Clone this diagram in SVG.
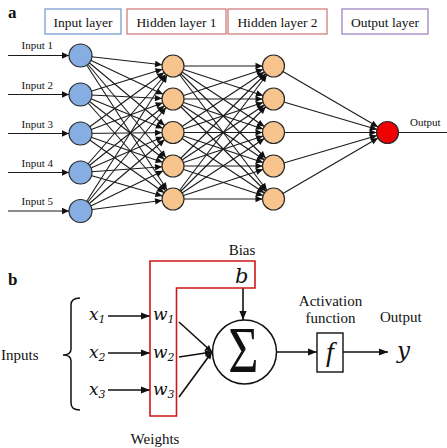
<svg xmlns="http://www.w3.org/2000/svg" width="447" height="448" viewBox="0 0 447 448">
<style>
.t{font-family:"Liberation Serif","Times New Roman",serif;fill:#111}
.lbl{font-size:13.5px}
.inl{font-size:11px}
.bl{font-size:15px}
.m{font-family:"DejaVu Serif","Liberation Serif",serif;font-style:italic;fill:#111}
.net line{stroke:#1a1a1a;stroke-width:1.1;marker-end:url(#an)}
.inp line{stroke:#1a1a1a;stroke-width:1.2;marker-end:url(#ai)}
.pb line{stroke:#111;stroke-width:1.6;marker-end:url(#ab)}
.in{fill:#86AEE3;stroke:#2a2a2a;stroke-width:1.2}
.hd{fill:#F8C48E;stroke:#2a2a2a;stroke-width:1.2}
.out{fill:#F00000;stroke:#2a2a2a;stroke-width:1.2}
.box{fill:#fff;stroke-width:1.3}
</style>
<defs>
<marker id="an" markerUnits="userSpaceOnUse" viewBox="0 0 10 10" markerWidth="10" markerHeight="10" refX="0" refY="0" orient="auto" overflow="visible"><path d="M-18,-3.2 L-11,0 L-18,3.2 Z" fill="#111"/></marker>
<marker id="ai" markerUnits="userSpaceOnUse" viewBox="0 0 10 10" markerWidth="10" markerHeight="10" refX="0" refY="0" orient="auto" overflow="visible"><path d="M-7,-3.2 L0,0 L-7,3.2 Z" fill="#111"/></marker>
<marker id="ab" markerUnits="userSpaceOnUse" viewBox="0 0 10 10" markerWidth="10" markerHeight="10" refX="0" refY="0" orient="auto" overflow="visible"><path d="M-9,-3.6 L0,0 L-9,3.6 Z" fill="#111"/></marker>
<marker id="aj" markerUnits="userSpaceOnUse" viewBox="0 0 10 10" markerWidth="10" markerHeight="10" refX="0" refY="0" orient="auto" overflow="visible"><path d="M-7,-3.2 L0,0 L-7,3.2 Z" fill="#111"/></marker>
</defs>

<!-- panel a labels -->
<text class="t" x="8" y="18" font-size="17" font-weight="bold">a</text>
<g id="box-input"><rect class="box" x="45" y="9" width="76" height="25" stroke="#7C9DD0"/><text class="t lbl" x="83" y="26.5" text-anchor="middle">Input layer</text></g>
<g id="box-h1"><rect class="box" x="127" y="9" width="99" height="25" stroke="#D07F7F"/><text class="t lbl" x="176.5" y="26.5" text-anchor="middle">Hidden layer 1</text></g>
<g id="box-h2"><rect class="box" x="228" y="9" width="99" height="25" stroke="#D07F7F"/><text class="t lbl" x="277.5" y="26.5" text-anchor="middle">Hidden layer 2</text></g>
<g id="box-out"><rect class="box" x="342" y="9" width="86" height="25" stroke="#9C86C4"/><text class="t lbl" x="385" y="26.5" text-anchor="middle">Output layer</text></g>

<g id="connectors">
<g class="inp">
<line x1="8" y1="55.5" x2="69" y2="55.5"/>
<line x1="8" y1="94.5" x2="69" y2="94.5"/>
<line x1="8" y1="133.5" x2="69" y2="133.5"/>
<line x1="8" y1="172.5" x2="69" y2="172.5"/>
<line x1="8" y1="211" x2="69" y2="211"/>
</g>
<g class="net">
<line x1="80.5" y1="55.5" x2="173" y2="66"/><line x1="80.5" y1="55.5" x2="173" y2="99"/><line x1="80.5" y1="55.5" x2="173" y2="132.5"/><line x1="80.5" y1="55.5" x2="173" y2="166"/><line x1="80.5" y1="55.5" x2="173" y2="199"/>
<line x1="80.5" y1="94.5" x2="173" y2="66"/><line x1="80.5" y1="94.5" x2="173" y2="99"/><line x1="80.5" y1="94.5" x2="173" y2="132.5"/><line x1="80.5" y1="94.5" x2="173" y2="166"/><line x1="80.5" y1="94.5" x2="173" y2="199"/>
<line x1="80.5" y1="133.5" x2="173" y2="66"/><line x1="80.5" y1="133.5" x2="173" y2="99"/><line x1="80.5" y1="133.5" x2="173" y2="132.5"/><line x1="80.5" y1="133.5" x2="173" y2="166"/><line x1="80.5" y1="133.5" x2="173" y2="199"/>
<line x1="80.5" y1="172.5" x2="173" y2="66"/><line x1="80.5" y1="172.5" x2="173" y2="99"/><line x1="80.5" y1="172.5" x2="173" y2="132.5"/><line x1="80.5" y1="172.5" x2="173" y2="166"/><line x1="80.5" y1="172.5" x2="173" y2="199"/>
<line x1="80.5" y1="211" x2="173" y2="66"/><line x1="80.5" y1="211" x2="173" y2="99"/><line x1="80.5" y1="211" x2="173" y2="132.5"/><line x1="80.5" y1="211" x2="173" y2="166"/><line x1="80.5" y1="211" x2="173" y2="199"/>

<line x1="173" y1="66" x2="273.5" y2="66"/><line x1="173" y1="66" x2="273.5" y2="99"/><line x1="173" y1="66" x2="273.5" y2="132.5"/><line x1="173" y1="66" x2="273.5" y2="166"/><line x1="173" y1="66" x2="273.5" y2="199"/>
<line x1="173" y1="99" x2="273.5" y2="66"/><line x1="173" y1="99" x2="273.5" y2="99"/><line x1="173" y1="99" x2="273.5" y2="132.5"/><line x1="173" y1="99" x2="273.5" y2="166"/><line x1="173" y1="99" x2="273.5" y2="199"/>
<line x1="173" y1="132.5" x2="273.5" y2="66"/><line x1="173" y1="132.5" x2="273.5" y2="99"/><line x1="173" y1="132.5" x2="273.5" y2="132.5"/><line x1="173" y1="132.5" x2="273.5" y2="166"/><line x1="173" y1="132.5" x2="273.5" y2="199"/>
<line x1="173" y1="166" x2="273.5" y2="66"/><line x1="173" y1="166" x2="273.5" y2="99"/><line x1="173" y1="166" x2="273.5" y2="132.5"/><line x1="173" y1="166" x2="273.5" y2="166"/><line x1="173" y1="166" x2="273.5" y2="199"/>
<line x1="173" y1="199" x2="273.5" y2="66"/><line x1="173" y1="199" x2="273.5" y2="99"/><line x1="173" y1="199" x2="273.5" y2="132.5"/><line x1="173" y1="199" x2="273.5" y2="166"/><line x1="173" y1="199" x2="273.5" y2="199"/>

<line x1="273.5" y1="66" x2="387.5" y2="132.5"/><line x1="273.5" y1="99" x2="387.5" y2="132.5"/><line x1="273.5" y1="132.5" x2="387.5" y2="132.5"/><line x1="273.5" y1="166" x2="387.5" y2="132.5"/><line x1="273.5" y1="199" x2="387.5" y2="132.5"/>
</g>
<line x1="398" y1="132.5" x2="447" y2="132.5" stroke="#1a1a1a" stroke-width="1.1"/>

<!-- panel b connectors -->
<g class="pb">
<line x1="108" y1="316" x2="150" y2="316"/>
<line x1="108" y1="353" x2="150" y2="353"/>
<line x1="108" y1="390" x2="150" y2="390"/>
<line x1="243" y1="288" x2="243" y2="320"/>
<line x1="276.5" y1="352" x2="317" y2="352"/>
<line x1="343" y1="352" x2="388" y2="352"/>
</g>
<g stroke="#111" stroke-width="1.6" marker-end="url(#aj)">
<line x1="179" y1="322" x2="212" y2="352"/>
<line x1="179" y1="357" x2="212" y2="352"/>
<line x1="179" y1="397" x2="212" y2="352"/>
</g>
</g>

<!-- panel a nodes -->
<g id="input-nodes">
<circle class="in" cx="80.5" cy="55.5" r="11.5"/>
<circle class="in" cx="80.5" cy="94.5" r="11.5"/>
<circle class="in" cx="80.5" cy="133.5" r="11.5"/>
<circle class="in" cx="80.5" cy="172.5" r="11.5"/>
<circle class="in" cx="80.5" cy="211" r="11.5"/>
<text class="t inl" x="21.5" y="49">Input 1</text>
<text class="t inl" x="21.5" y="89">Input 2</text>
<text class="t inl" x="21.5" y="128">Input 3</text>
<text class="t inl" x="21.5" y="167">Input 4</text>
<text class="t inl" x="21.5" y="205">Input 5</text>
</g>
<g id="hidden1-nodes">
<circle class="hd" cx="173" cy="66" r="11"/>
<circle class="hd" cx="173" cy="99" r="11"/>
<circle class="hd" cx="173" cy="132.5" r="11"/>
<circle class="hd" cx="173" cy="166" r="11"/>
<circle class="hd" cx="173" cy="199" r="11"/>
</g>
<g id="hidden2-nodes">
<circle class="hd" cx="273.5" cy="66" r="11"/>
<circle class="hd" cx="273.5" cy="99" r="11"/>
<circle class="hd" cx="273.5" cy="132.5" r="11"/>
<circle class="hd" cx="273.5" cy="166" r="11"/>
<circle class="hd" cx="273.5" cy="199" r="11"/>
</g>
<g id="output-node">
<circle class="out" cx="387.5" cy="132.5" r="11"/>
<text class="t inl" x="410" y="126" font-size="11.5">Output</text>
</g>

<!-- panel b -->
<text class="t" x="8" y="285" font-size="17" font-weight="bold">b</text>
<g id="inputs">
<text class="t bl" x="1" y="360">Inputs</text>
<path d="M80,298 Q71,298 71,305 L71,349 Q71,355 63,355 Q71,355 71,361 L71,403 Q71,410 80,410" fill="none" stroke="#111" stroke-width="1.5"/>
<text class="m" x="89" y="320" font-size="17">x<tspan font-size="11" dy="3">1</tspan></text>
<text class="m" x="89" y="358" font-size="17">x<tspan font-size="11" dy="3">2</tspan></text>
<text class="m" x="89" y="395" font-size="17">x<tspan font-size="11" dy="3">3</tspan></text>
</g>
<g id="weights">
<path d="M150,261 H255 V288 H176.5 V416 H150 Z" fill="none" stroke="#D01818" stroke-width="1.6"/>
<text class="m" x="153" y="320" font-size="17">w<tspan font-size="11" dy="3">1</tspan></text>
<text class="m" x="153" y="358" font-size="17">w<tspan font-size="11" dy="3">2</tspan></text>
<text class="m" x="153" y="395" font-size="17">w<tspan font-size="11" dy="3">3</tspan></text>
<text class="t bl" x="155" y="444" text-anchor="middle">Weights</text>
</g>
<g id="bias">
<text class="t bl" x="242" y="255" text-anchor="middle">Bias</text>
<text class="m" x="235" y="283" font-size="21">b</text>
</g>
<g id="sum">
<circle cx="244.5" cy="352" r="32" fill="#fff" stroke="#111" stroke-width="1.5"/>
<text transform="translate(243.5,372) scale(1,1.27)" text-anchor="middle" font-family="Liberation Serif,serif" font-size="52" fill="#111">Σ</text>
</g>
<g id="activation">
<text class="t bl" x="330.5" y="306" text-anchor="middle">Activation</text>
<text class="t bl" x="330.5" y="323" text-anchor="middle">function</text>
<rect x="317" y="333" width="26" height="39" fill="#fff" stroke="#111" stroke-width="1.4"/>
<text x="330" y="361" text-anchor="middle" font-family="Liberation Serif,serif" font-style="italic" font-size="28" fill="#111">f</text>
</g>
<g id="output">
<text class="t bl" x="380" y="322">Output</text>
<text class="m" x="397" y="358" font-size="23">y</text>
</g>
</svg>
